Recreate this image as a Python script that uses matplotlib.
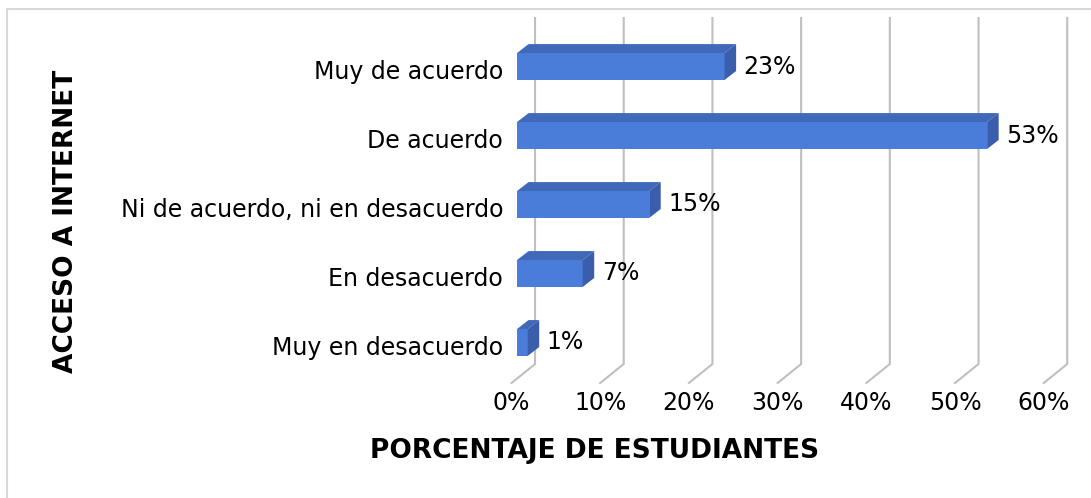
import matplotlib
matplotlib.use("Agg")
import matplotlib.pyplot as plt
from matplotlib.patches import Polygon, Rectangle

# ---- data ----
categories = ["Muy en desacuerdo", "En desacuerdo", "Ni de acuerdo, ni en desacuerdo",
              "De acuerdo", "Muy de acuerdo"]
values = [1.2, 7.4, 14.9, 53, 23.4]          # percent (bar lengths as drawn)
value_labels = ["1%", "7%", "15%", "53%", "23%"]
tick_values = [0, 10, 20, 30, 40, 50, 60]
tick_labels = ["0%", "10%", "20%", "30%", "40%", "50%", "60%"]
x_title = "PORCENTAJE DE ESTUDIANTES"
y_title = "ACCESO A INTERNET"

# ---- styling / geometry (3D look) ----
FRONT = "#4A7DDA"
TOP = "#4169BA"
SIDE = "#3A5EAB"
GRID = "#BFBFBF"
BAR_H = 0.39           # front face height (category units)
DX, DY = 1.3, 0.13     # depth offset of bar top/side faces (data units)
BACK_OFF = 2.03        # back wall shift (data units)
FRONT_OFF = -0.62      # floor front edge shift (data units)
WALL_TOP, WALL_BOT, FLOOR_FRONT = 4.703, -0.312, -0.587

fig = plt.figure(figsize=(10.91, 4.98), dpi=100)
ax = fig.add_axes([0, 0, 1, 1])
ax.set_xlim(-58.29, 64.71)
ax.set_ylim(-2.254, 4.964)
ax.axis("off")

# chart border
fig.patches.append(Rectangle((7 / 1091, -0.05), 1.2, 1 - 9 / 498 + 0.05,
                             transform=fig.transFigure, fill=False,
                             edgecolor="#D9D9D9", linewidth=1.5))

# gridlines on back wall + floor
for v in tick_values:
    ax.plot([v + BACK_OFF, v + BACK_OFF, v + FRONT_OFF],
            [WALL_TOP, WALL_BOT, FLOOR_FRONT], color=GRID,
            linewidth=1.5, solid_joinstyle="miter", zorder=1)

ypos = list(range(len(categories)))
ax.barh(ypos, values, height=BAR_H, left=0, color=FRONT, zorder=3)
for y, v in zip(ypos, values):
    top = y + BAR_H / 2
    bot = y - BAR_H / 2
    ax.add_patch(Polygon([(0, top), (v, top), (v + DX, top + DY), (DX, top + DY)],
                         closed=True, facecolor=TOP, edgecolor="none", zorder=3))
    ax.add_patch(Polygon([(v, bot), (v, top), (v + DX, top + DY), (v + DX, bot + DY)],
                         closed=True, facecolor=SIDE, edgecolor="none", zorder=3))

# data labels
for y, v, lab in zip(ypos, values, value_labels):
    ax.text(v + 2.14, y, lab, ha="left", va="center", fontsize=17, color="#000000")

# category labels
for y, c in zip(ypos, categories):
    ax.text(-1.57, y - 0.08, c, ha="right", va="center", fontsize=17, color="#000000")

# x tick labels
for v, lab in zip(tick_values, tick_labels):
    ax.text(v + FRONT_OFF, -0.884, lab, ha="center", va="center",
            fontsize=17, color="#000000")

# axis titles
fig.text(595 / 1091, 1 - 450.5 / 498, x_title, ha="center", va="center",
         fontsize=19, fontweight="bold")
fig.text(66 / 1091, 1 - 221 / 498, y_title, ha="center", va="center",
         fontsize=19, fontweight="bold", rotation=90)

fig.savefig("out.png", dpi=100, facecolor="white")
